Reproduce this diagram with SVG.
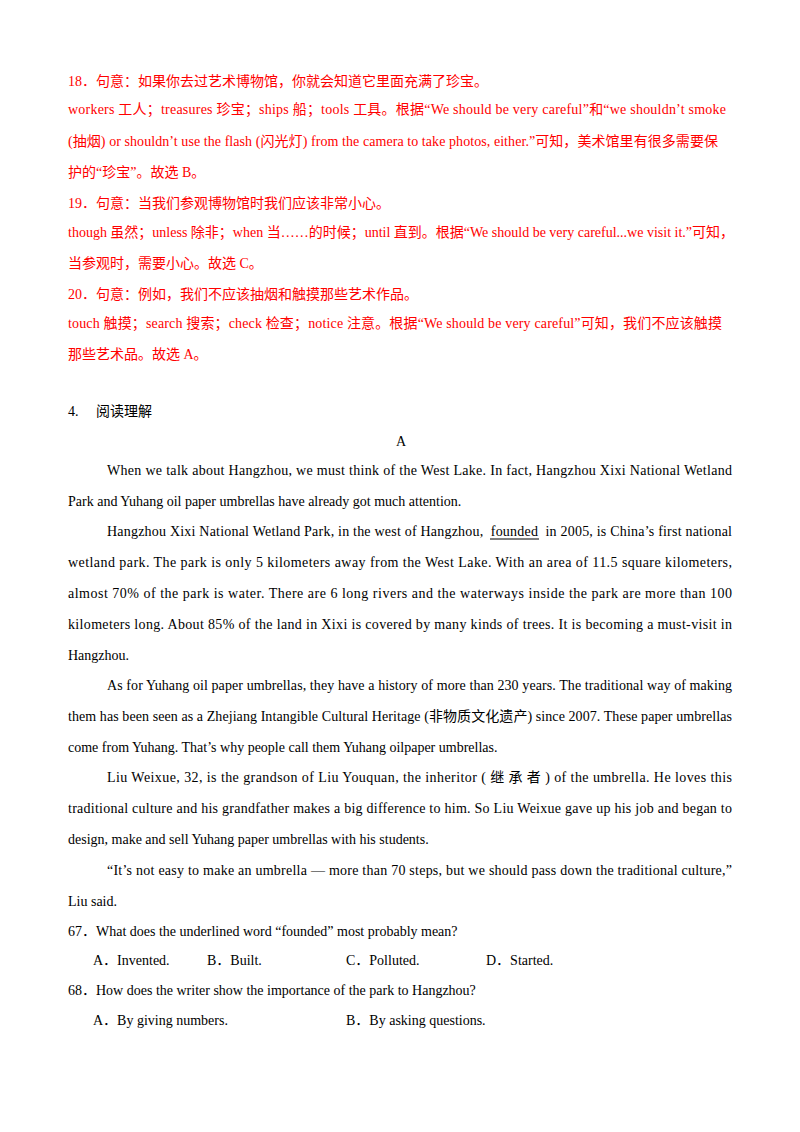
<svg xmlns="http://www.w3.org/2000/svg" width="800" height="1132" viewBox="0 0 800 1132">
<style>
text{font-family:"Liberation Serif","Noto Sans CJK SC",serif;font-size:14px;fill:#000}
.r{fill:#ff0000}
</style>
<rect width="800" height="1132" fill="#fff"/>
<g class="red">
<text class="r" x="68" y="86">18．句意：如果你去过艺术博物馆，你就会知道它里面充满了珍宝。</text>
<text class="r" x="68" y="114" textLength="658" lengthAdjust="spacing">workers 工人；treasures 珍宝；ships 船；tools 工具。根据“We should be very careful”和“we shouldn’t smoke</text>
<text class="r" x="68" y="146" textLength="650" lengthAdjust="spacing">(抽烟) or shouldn’t use the flash (闪光灯) from the camera to take photos, either.”可知，美术馆里有很多需要保</text>
<text class="r" x="68" y="177">护的“珍宝”。故选 B。</text>
<text class="r" x="68" y="208">19．句意：当我们参观博物馆时我们应该非常小心。</text>
<text class="r" x="68" y="237" textLength="666" lengthAdjust="spacing">though 虽然；unless 除非；when 当……的时候；until 直到。根据“We should be very careful...we visit it.”可知，</text>
<text class="r" x="68" y="268">当参观时，需要小心。故选 C。</text>
<text class="r" x="68" y="299">20．句意：例如，我们不应该抽烟和触摸那些艺术作品。</text>
<text class="r" x="68" y="328" textLength="654" lengthAdjust="spacing">touch 触摸；search 搜索；check 检查；notice 注意。根据“We should be very careful”可知，我们不应该触摸</text>
<text class="r" x="68" y="359">那些艺术品。故选 A。</text>
</g>
<g>
<text x="68" y="416">4.</text><text x="96" y="416">阅读理解</text>
<text x="396" y="446">A</text>
<text x="107" y="475" textLength="625" lengthAdjust="spacing">When we talk about Hangzhou, we must think of the West Lake. In fact, Hangzhou Xixi National Wetland</text>
<text x="68" y="506">Park and Yuhang oil paper umbrellas have already got much attention.</text>
<text x="107" y="536" textLength="625" lengthAdjust="spacing" style="white-space:pre">Hangzhou Xixi National Wetland Park, in the west of Hangzhou,  founded  in 2005, is China’s first national</text>
<line x1="490" y1="539" x2="539" y2="539" stroke="#000" stroke-width="1"/>
<text x="68" y="567" textLength="664" lengthAdjust="spacing">wetland park. The park is only 5 kilometers away from the West Lake. With an area of 11.5 square kilometers,</text>
<text x="68" y="598" textLength="664" lengthAdjust="spacing">almost 70% of the park is water. There are 6 long rivers and the waterways inside the park are more than 100</text>
<text x="68" y="629" textLength="664" lengthAdjust="spacing">kilometers long. About 85% of the land in Xixi is covered by many kinds of trees. It is becoming a must-visit in</text>
<text x="68" y="660">Hangzhou.</text>
<text x="107" y="690" textLength="625" lengthAdjust="spacing">As for Yuhang oil paper umbrellas, they have a history of more than 230 years. The traditional way of making</text>
<text x="68" y="721" textLength="664" lengthAdjust="spacing">them has been seen as a Zhejiang Intangible Cultural Heritage (非物质文化遗产) since 2007. These paper umbrellas</text>
<text x="68" y="752">come from Yuhang. That’s why people call them Yuhang oilpaper umbrellas.</text>
<text x="107" y="782" textLength="625" lengthAdjust="spacing">Liu Weixue, 32, is the grandson of Liu Youquan, the inheritor ( 继 承 者 ) of the umbrella. He loves this</text>
<text x="68" y="813" textLength="664" lengthAdjust="spacing">traditional culture and his grandfather makes a big difference to him. So Liu Weixue gave up his job and began to</text>
<text x="68" y="844">design, make and sell Yuhang paper umbrellas with his students.</text>
<text x="107" y="875" textLength="625" lengthAdjust="spacing">“It’s not easy to make an umbrella — more than 70 steps, but we should pass down the traditional culture,”</text>
<text x="68" y="906">Liu said.</text>
<text x="68" y="936">67．What does the underlined word “founded” most probably mean?</text>
<text x="93" y="965">A．Invented.</text><text x="207" y="965">B．Built.</text><text x="346" y="965">C．Polluted.</text><text x="486" y="965">D．Started.</text>
<text x="68" y="995">68．How does the writer show the importance of the park to Hangzhou?</text>
<text x="93" y="1025">A．By giving numbers.</text><text x="346" y="1025">B．By asking questions.</text>
</g>
</svg>
